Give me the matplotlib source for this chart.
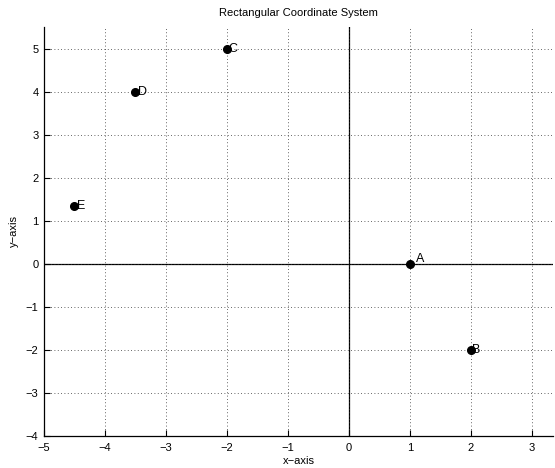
import matplotlib
matplotlib.use('Agg')
import matplotlib.pyplot as plt

plt.rcParams['font.family'] = ['Liberation Sans', 'DejaVu Sans']

# points and their labels
names = ["A", "B", "C", "D", "E"]
xs = [1, 2, -2, -3.5, -4.5]
ys = [0, -2, 5, 4, 1.333]
# where each label sits
lab_x = [1.1, 2.02, -1.98, -3.46, -4.46]
lab_y = [0.1, -2.0, 5.0, 4.0, 1.333]

fig = plt.figure(figsize=(5.55, 4.68), dpi=100)
ax = fig.add_axes([0.0793, 0.0684, 0.9171, 0.8739])

ax.axhline(0, color="black", lw=0.9, zorder=1)
ax.axvline(0, color="black", lw=0.9, zorder=1)
ax.plot(xs, ys, "o", color="black", markersize=5.5, zorder=3)
for n, tx, ty in zip(names, lab_x, lab_y):
    ax.text(tx, ty, n, fontsize=9, ha="left", va="center", zorder=4)

ax.set_xlim(-5, 3.35)
ax.set_ylim(-4, 5.5)
ax.set_xticks(range(-5, 4))
ax.set_yticks(range(-4, 6))
ax.set_xticklabels([str(v).replace("-", "\u2212") for v in range(-5, 4)])
ax.set_yticklabels([str(v).replace("-", "\u2212") for v in range(-4, 6)])
ax.grid(True, linestyle=(0, (1, 3)), color="0.2", lw=0.6)
ax.spines["top"].set_visible(False)
ax.spines["right"].set_visible(False)
ax.spines["left"].set_linewidth(0.9)
ax.spines["bottom"].set_linewidth(0.9)
ax.tick_params(direction="in", length=4, width=0.8, labelsize=8)
ax.tick_params(axis="x", pad=5)
ax.tick_params(axis="y", pad=4)

ax.set_title("Rectangular Coordinate System", fontsize=8, pad=8)
ax.set_xlabel("x\u2212axis", fontsize=8, labelpad=2)
ax.set_ylabel("y\u2212axis", fontsize=8, labelpad=5)

fig.savefig("out.png", dpi=100)
